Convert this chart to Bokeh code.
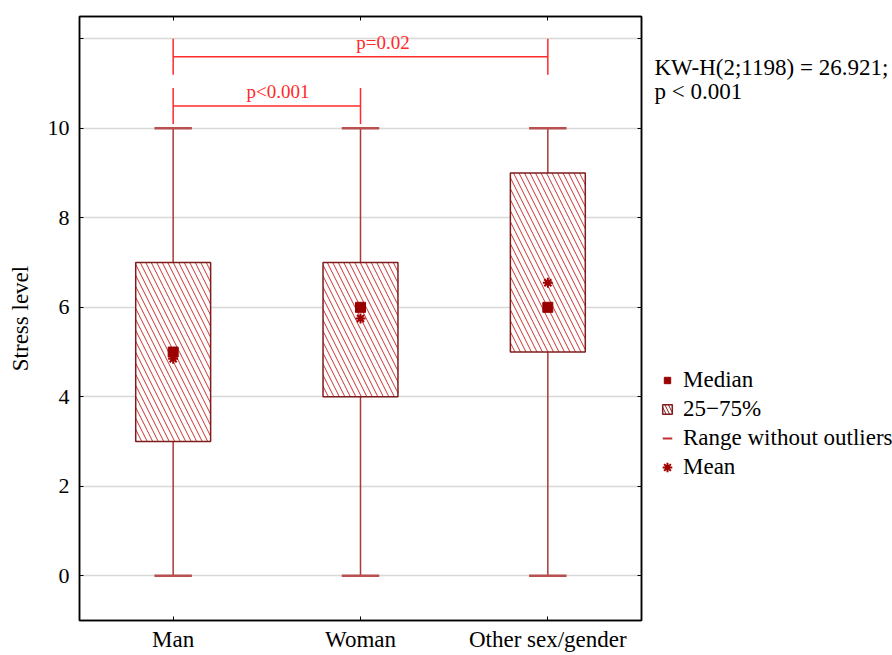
import math
from bokeh.plotting import figure
from bokeh.layouts import row
from bokeh.models import (Range1d, FixedTicker, LinearAxis, Legend, LegendItem,
                          Label, ColumnDataSource)
from bokeh.embed import file_html
from bokeh.resources import INLINE

# Stress level by sex/gender
categories = ["Man", "Woman", "Other sex/gender"]
q1 = [3, 4, 5]
q3 = [7, 7, 9]
medians = [5, 6, 6]
means = [4.85, 5.75, 6.55]
whisker_low = [0, 0, 0]
whisker_high = [10, 10, 10]
y_ticks = [0, 2, 4, 6, 8, 10, 12]

# pairwise comparisons: (group a, group b, label, bracket level)
comparisons = [(0, 1, "p<0.001", 10.5), (0, 2, "p=0.02", 11.6)]
kw_text = ["KW-H(2;1198) = 26.921;", "p < 0.001"]

SERIF = "Liberation Serif"
DARK_RED = "#7f1d1d"
WHISKER = "#a83a3a"
CAP = "#b85050"
HATCH = "#c83434"
SIG_RED = "#ff2a2a"
MARK = "#990000"

xs = [i + 0.5 for i in range(len(categories))]
src = ColumnDataSource(dict(x=xs, q1=q1, q3=q3, med=medians, mean=means,
                            lo=whisker_low, hi=whisker_high,
                            cl=[x - 0.1 for x in xs], cr=[x + 0.1 for x in xs]))

p = figure(frame_width=562, frame_height=604, output_backend="svg", toolbar_location=None,
           x_range=Range1d(0, 3), y_range=Range1d(-1, 12.5),
           min_border_left=79, min_border_top=16, min_border_right=4,
           min_border_bottom=35, x_axis_location=None, y_axis_location=None)
p.outline_line_color = "black"
p.outline_line_width = 1.5
p.background_fill_color = "white"
p.border_fill_color = "white"

def make_axis(kind, labels=True):
    ax = LinearAxis()
    ax.axis_line_color = "black"
    ax.axis_line_width = 1.5
    ax.major_tick_in = 4
    ax.major_tick_out = 0
    ax.minor_tick_line_color = None
    ax.major_tick_line_color = "black"
    ax.major_label_text_font = SERIF
    ax.major_label_text_color = "black"
    if kind == "x":
        ax.ticker = FixedTicker(ticks=xs)
        ax.major_label_overrides = {x: c for x, c in zip(xs, categories)}
        ax.major_label_text_font_size = "23px"
        ax.major_label_standoff = 6
    else:
        ax.ticker = FixedTicker(ticks=y_ticks)
        ax.major_label_overrides = {12: ""}
        ax.major_label_text_font_size = "22px"
        ax.major_label_standoff = 10
    if not labels:
        ax.major_label_text_color = None
        ax.major_label_text_font_size = "0px"
        ax.major_label_standoff = 0
    return ax

bottom = make_axis("x")
left = make_axis("y")
left.axis_label = "Stress level"
left.axis_label_text_font = SERIF
left.axis_label_text_font_style = "normal"
left.axis_label_text_font_size = "23px"
left.axis_label_text_color = "black"
left.axis_label_standoff = 12
p.add_layout(bottom, "below")
p.add_layout(left, "left")
p.add_layout(make_axis("x", labels=False), "above")
p.add_layout(make_axis("y", labels=False), "right")

p.xgrid.grid_line_color = None
p.ygrid.ticker = FixedTicker(ticks=y_ticks)
p.ygrid.grid_line_color = "#d8d8d8"
p.ygrid.grid_line_width = 1.5

# whiskers and caps
p.segment(x0="x", y0="lo", x1="x", y1="hi", source=src,
          line_color=WHISKER, line_width=1.5)
p.segment(x0="cl", y0="lo", x1="cr", y1="lo", source=src,
          line_color=CAP, line_width=2.5)
p.segment(x0="cl", y0="hi", x1="cr", y1="hi", source=src,
          line_color=CAP, line_width=2.5)

# interquartile boxes
box_style = dict(fill_color="white", line_color=DARK_RED, line_width=1.5,
                 hatch_pattern="left_diagonal_line", hatch_color=HATCH,
                 hatch_scale=11, hatch_weight=1)
p.vbar(x="x", width=0.4, bottom="q1", top="q3", source=src, **box_style)

p.scatter(x="x", y="med", source=src, marker="square", size=10,
          fill_color=MARK, line_color=MARK)
p.scatter(x="x", y="mean", source=src, marker="asterisk", size=10,
          line_color="#a00000", line_width=2)

# significance brackets
for a, b, lab, lvl in comparisons:
    xa, xb = xs[a], xs[b]
    p.segment(x0=[xa], y0=[lvl], x1=[xb], y1=[lvl], line_color=SIG_RED, line_width=1.5)
    p.segment(x0=[xa, xb], y0=[lvl - 0.4, lvl - 0.4], x1=[xa, xb], y1=[lvl + 0.4, lvl + 0.4],
              line_color=SIG_RED, line_width=1.5)
    p.add_layout(Label(x=xa + 0.56 * (xb - xa), y=lvl + 0.08, text=lab,
                       text_align="center", text_baseline="bottom",
                       text_font=SERIF, text_font_size="19px", text_color=SIG_RED))

# side panel: test statistic and legend key
side_w = 892 - 645
p2 = figure(width=side_w, height=655, output_backend="svg", toolbar_location=None,
            x_range=Range1d(0, side_w), y_range=Range1d(0, 655),
            min_border=0, x_axis_location=None, y_axis_location=None)
p2.outline_line_color = None
p2.grid.grid_line_color = None
p2.background_fill_color = "white"
p2.border_fill_color = "white"

for i, t in enumerate(kw_text):
    p2.add_layout(Label(x=9, y=600 - 26 * i, text=t, text_align="left",
                        text_baseline="middle", text_font=SERIF,
                        text_font_size="23px", text_color="black"))

# key renderers sit outside the visible range; only their legend glyphs show
def off_src():
    return ColumnDataSource(dict(x=[-100], y=[-100]))

k_med = p2.scatter(x="x", y="y", source=off_src(), marker="square",
                   fill_color=MARK, line_color=MARK)
k_box = p2.scatter(x="x", y="y", source=off_src(), marker="square",
                   fill_color="white", line_color=DARK_RED, line_width=1.5,
                   hatch_pattern="left_diagonal_line", hatch_color=DARK_RED,
                   hatch_scale=7, hatch_weight=1)
k_rng = p2.scatter(x="x", y="y", source=off_src(), marker="dash",
                   angle=math.pi / 2, line_color="#c03030", line_width=2)
k_mean = p2.scatter(x="x", y="y", source=off_src(), marker="asterisk",
                    line_color="#a00000", line_width=2)

def style_legend(lg, glyph, standoff):
    lg.label_text_font = SERIF
    lg.label_text_font_size = "23px"
    lg.label_text_color = "black"
    lg.glyph_width = glyph
    lg.glyph_height = glyph
    lg.label_height = 26
    lg.spacing = 3
    lg.label_standoff = standoff
    lg.padding = 4
    lg.margin = 0
    lg.border_line_color = None
    lg.background_fill_color = None

legend_med = Legend(items=[LegendItem(label="Median", renderers=[k_med])],
                    location=(14, 227))
style_legend(legend_med, 16, 8)
legend_rest = Legend(items=[
    LegendItem(label="25\u221275%", renderers=[k_box]),
    LegendItem(label="Range without outliers", renderers=[k_rng]),
    LegendItem(label="Mean", renderers=[k_mean]),
], location=(10, 140))
style_legend(legend_rest, 24, 4)
p2.add_layout(legend_med, "center")
p2.add_layout(legend_rest, "center")

open("out.html", "w").write(file_html(row(p, p2), INLINE))
